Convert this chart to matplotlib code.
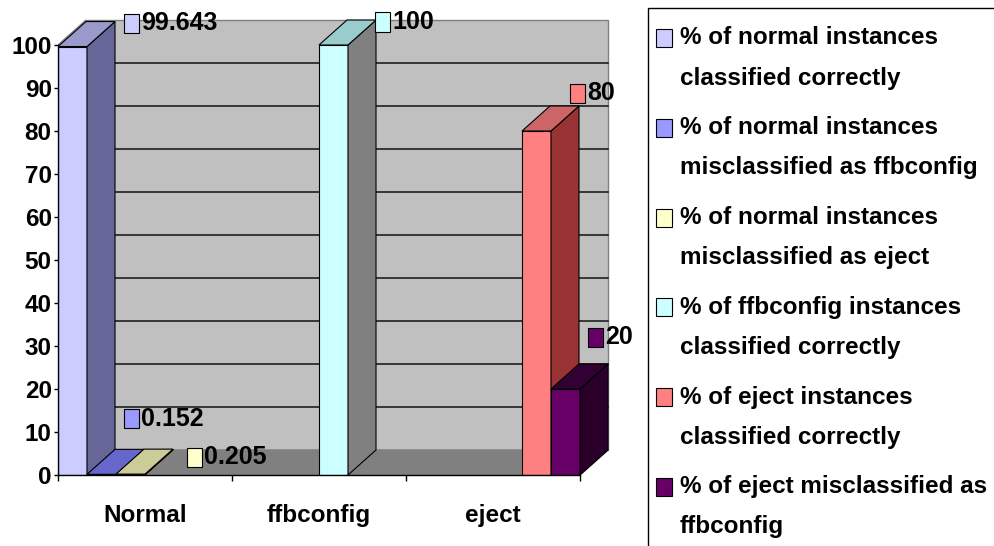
import matplotlib
matplotlib.use("Agg")
import matplotlib.pyplot as plt
from matplotlib.patches import Polygon, Rectangle

plt.rcParams["font.family"] = ["Liberation Sans", "DejaVu Sans"]

categories = ["Normal", "ffbconfig", "eject"]
series_names = [
    "% of normal instances\nclassified correctly",
    "% of normal instances\nmisclassified as ffbconfig",
    "% of normal instances\nmisclassified as eject",
    "% of ffbconfig instances\nclassified correctly",
    "% of eject instances\nclassified correctly",
    "% of eject misclassified as\nffbconfig",
]
# one value per category, None where the cell is empty
normal_correct = [99.643, None, None]
normal_as_ffbconfig = [0.152, None, None]
normal_as_eject = [0.205, None, None]
ffbconfig_correct = [None, 100, None]
eject_correct = [None, None, 80]
eject_as_ffbconfig = [None, None, 20]
y_ticks = [0, 10, 20, 30, 40, 50, 60, 70, 80, 90, 100]

series = [normal_correct, normal_as_ffbconfig, normal_as_eject,
          ffbconfig_correct, eject_correct, eject_as_ffbconfig]

# front / top / side shades of each series (excel 3d look)
front_colors = ["#ccccff", "#9999ff", "#ffffcc", "#ccffff", "#ff8080", "#660066"]
top_colors = ["#9999cc", "#6666cc", "#cccc99", "#99cccc", "#cc6666", "#330033"]
side_colors = ["#666699", "#4d4d99", "#999966", "#808080", "#993333", "#2a002a"]

# where each value label sits, px from the back-top centre of its bar (x right, y down)
label_offsets = [(23.5, 1.5), (-5.5, -30.5), (28.5, 8), (13.5, 2), (5.5, -12.5), (-5.5, -27)]

W, H = 995, 546
fig = plt.figure(figsize=(W / 100, H / 100), dpi=100)

# plot area in pixels
left_px, right_px = 58, 610
bottom_px, top_px = 475, 15
cat_px = 174.0   # width of one category
unit_px = 4.3    # pixels per percent
ax = fig.add_axes([left_px / W, 1 - bottom_px / H,
                   (right_px - left_px) / W, (bottom_px - top_px) / H])
ax.set_xlim(0, (right_px - left_px) / cat_px)
ax.set_ylim(0, (bottom_px - top_px) / unit_px)
ax.set_facecolor("none")

px = 1 / cat_px
py = 1 / unit_px
dx, dy = 28 * px, 25 * py
ncat = len(categories)
nser = len(series)
ymax = max(y_ticks)

# walls, gridlines and floor
ax.add_patch(Polygon([(dx, dy), (ncat + dx, dy), (ncat + dx, ymax + dy), (dx, ymax + dy)],
                     fc="#c0c0c0", ec="#808080", lw=1, zorder=0))
ax.add_patch(Polygon([(0, 0), (dx, dy), (dx, ymax + dy), (0, ymax)],
                     fc="#c0c0c0", ec="#808080", lw=1, zorder=0))
for v in y_ticks[1:-1]:
    ax.plot([0, dx, ncat + dx], [v, v + dy, v + dy], color="black", lw=1, zorder=1)
ax.add_patch(Polygon([(0, 0), (ncat, 0), (ncat + dx, dy), (dx, dy)],
                     fc="#808080", ec="#808080", lw=1, zorder=1))

bw = 1 / nser
for j, vals in enumerate(series):
    for i, v in enumerate(vals):
        if v is None:
            continue
        xl = i + j * bw
        xr = xl + bw
        ax.add_patch(Rectangle((xl, 0), bw, v, fc=front_colors[j], ec="black", lw=0.8, zorder=3))
        ax.add_patch(Polygon([(xr, 0), (xr + dx, dy), (xr + dx, v + dy), (xr, v)],
                             fc=side_colors[j], ec="black", lw=0.8, zorder=3))
        ax.add_patch(Polygon([(xl, v), (xr, v), (xr + dx, v + dy), (xl + dx, v + dy)],
                             fc=top_colors[j], ec="black", lw=0.8, zorder=3))

        # value label with legend key
        ox, oy = label_offsets[j]
        kx = (xl + xr) / 2 + dx + ox * px
        ky = v + dy - oy * py
        ax.add_patch(Rectangle((kx, ky - 9.5 * py), 15 * px, 19 * py, fc=front_colors[j],
                               ec="black", lw=0.8, zorder=5, clip_on=False))
        ax.text(kx + 17 * px, ky, f"{v:g}", ha="left", va="center", fontsize=18,
                fontweight="bold", zorder=5, clip_on=False)

# axes
for s in ["top", "right"]:
    ax.spines[s].set_visible(False)
ax.spines["left"].set_bounds(0, ymax)
ax.spines["bottom"].set_bounds(0, ncat)
for s in ["left", "bottom"]:
    ax.spines[s].set_linewidth(1)
    ax.spines[s].set_zorder(4)
ax.set_yticks(y_ticks)
ax.set_yticklabels([str(t) for t in y_ticks], fontsize=17.5, fontweight="bold")
ax.tick_params(axis="y", length=3, width=1, pad=1.5)
ax.set_xticks(range(ncat + 1))
ax.set_xticklabels([])
ax.tick_params(axis="x", which="major", length=4.5, width=1)
ax.set_xticks([i + 0.5 for i in range(ncat)], minor=True)
ax.set_xticklabels(categories, minor=True, fontsize=17.5, fontweight="bold")
ax.tick_params(axis="x", which="minor", length=0, pad=21)

# legend box, drawn in pixel coordinates
lax = fig.add_axes([0, 0, 1, 1])
lax.set_xlim(0, W)
lax.set_ylim(H, 0)
lax.axis("off")
lax.add_patch(Rectangle((648, 8), 400, 600, fill=False, ec="black", lw=1))
for k, name in enumerate(series_names):
    y1 = 38 + k * 89.8
    lax.add_patch(Rectangle((656, y1 - 9), 16, 18, fc=front_colors[k], ec="black", lw=0.8))
    for n, line in enumerate(name.split("\n")):
        lax.text(680, y1 + n * 40, line, ha="left", va="center",
                 fontsize=17.5, fontweight="bold")

fig.savefig("out.png", dpi=100)
